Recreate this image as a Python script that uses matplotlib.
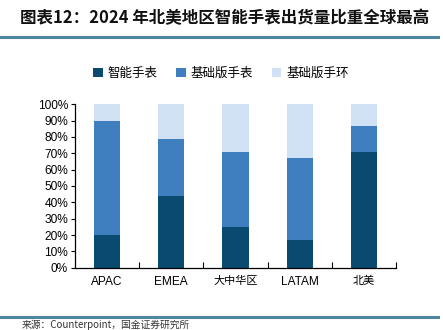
import matplotlib
matplotlib.use("Agg")
import matplotlib.pyplot as plt
import numpy as np
from matplotlib.lines import Line2D
from matplotlib.patches import Patch

plt.rcParams['font.family'] = ['Liberation Sans', 'Noto Sans CJK SC', 'DejaVu Sans']

regions = ["APAC", "EMEA", "大中华区", "LATAM", "北美"]
series_names = ["智能手表", "基础版手表", "基础版手环"]
smartwatch = [20, 44, 25, 17, 71]
basic_watch = [70, 35, 46, 50, 16]
basic_band = [10, 21, 29, 33, 13]
colors = ["#0A4A70", "#3F7EBF", "#CFE1F2"]
yticks = [0, 10, 20, 30, 40, 50, 60, 70, 80, 90, 100]

fig = plt.figure(figsize=(4.43, 3.30), dpi=100)
ax = fig.add_axes([75 / 443, 1 - 267.7 / 330, 321 / 443, 163.4 / 330])

x = np.arange(len(regions))
bottom = np.zeros(len(regions))
for vals, name, c in zip([smartwatch, basic_watch, basic_band], series_names, colors):
    v = np.array(vals) / 100.0
    ax.bar(x, v, width=0.41, bottom=bottom, color=c, label=name, edgecolor='none')
    bottom += v

ax.set_xlim(-0.5, len(regions) - 0.5)
ax.set_ylim(0, 1)
ax.set_yticks(np.array(yticks) / 100.0)
ax.set_yticklabels([f"{t}%" for t in yticks], fontsize=8.6)
ax.tick_params(axis='y', direction='out', length=3, width=0.8, pad=2)

ax.set_xticks(x)
ax.set_xticklabels(regions, fontsize=8.6)
for lbl in ax.get_xticklabels():
    if not lbl.get_text().isascii():
        lbl.set_family(['Noto Sans CJK SC'])
        lbl.set_fontsize(8)
ax.tick_params(axis='x', length=0, pad=6)
ax.set_xticks(np.arange(len(regions)) + 0.5, minor=True)
ax.tick_params(axis='x', which='minor', direction='in', length=4, width=0.8)

for s in ['top', 'right']:
    ax.spines[s].set_visible(False)
ax.spines['left'].set_linewidth(0.9)
ax.spines['bottom'].set_linewidth(0.9)

handles = [Patch(facecolor=c, edgecolor='none') for c in colors]
fig.legend(handles, series_names, loc='center', bbox_to_anchor=(221 / 443, 1 - 73 / 330),
           ncol=3, frameon=False, prop={'family': 'Noto Sans CJK SC', 'size': 9},
           handlelength=0.75, handleheight=0.75, handletextpad=0.4, columnspacing=1.5)

fig.text(20 / 443, 1 - 18 / 330, "图表12：2024 年北美地区智能手表出货量比重全球最高",
         family=['Noto Sans CJK SC'], fontsize=11.9, fontweight='bold',
         style='italic', va='center', ha='left', color='#111111')

rule_color = "#4F86A3"
fig.add_artist(Line2D([0, 438 / 443], [1 - 36.5 / 330] * 2, color=rule_color, lw=2.2,
                      transform=fig.transFigure))
fig.add_artist(Line2D([0, 438 / 443], [1 - 316.5 / 330] * 2, color=rule_color, lw=2.2,
                      transform=fig.transFigure))

fig.text(22 / 443, 1 - 329.5 / 330, "来源：Counterpoint，国金证券研究所",
         family=['Noto Sans CJK SC'], fontsize=7, va='bottom', ha='left', color='#333333')

fig.savefig("out.png", dpi=100)
